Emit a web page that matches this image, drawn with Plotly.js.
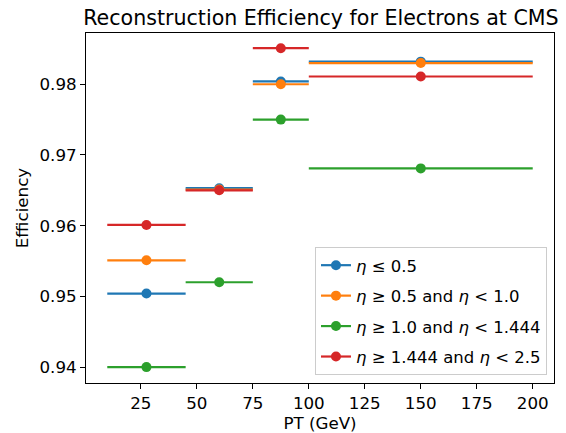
<!DOCTYPE html>
<html>
<head>
<meta charset="utf-8">
<script src="https://cdn.plot.ly/plotly-3.0.1.min.js"></script>
<style>html,body{margin:0;padding:0;background:#fff;}#chart{width:566px;height:433px;}</style>
</head>
<body>
<div id="chart"></div>
<script>
const ptCenters = [27.5, 60, 87.5, 150];
const ptHalfWidths = [17.5, 15, 12.5, 50];
const effEta0 = [0.9504, 0.9653, 0.9804, 0.9832];
const effEta1 = [0.9551, 0.9651, 0.9800, 0.9830];
const effEta2 = [0.9400, 0.9520, 0.9750, 0.9681];
const effEta3 = [0.9601, 0.9650, 0.9851, 0.9811];
const seriesNames = [
  '<i>η</i> ≤ 0.5',
  '<i>η</i> ≥ 0.5 and <i>η</i> < 1.0',
  '<i>η</i> ≥ 1.0 and <i>η</i> < 1.444',
  '<i>η</i> ≥ 1.444 and <i>η</i> < 2.5'
];
const colors = ['#1f77b4', '#ff7f0e', '#2ca02c', '#d62728'];
const allSeries = [effEta0, effEta1, effEta2, effEta3];

const traces = [];
allSeries.forEach((vals, i) => {
  traces.push({
    x: ptCenters, y: vals, type: 'scatter', mode: 'markers',
    marker: {color: colors[i], size: 10},
    error_x: {type: 'data', array: ptHalfWidths, symmetric: true, color: colors[i], thickness: 2.2, width: 0},
    showlegend: false, hoverinfo: 'skip'
  });
});
allSeries.forEach((vals, i) => {
  traces.push({
    x: [null], y: [null], type: 'scatter', mode: 'lines+markers',
    name: seriesNames[i], legendgroup: 'g' + i,
    marker: {color: colors[i], size: 10},
    line: {color: colors[i], width: 2.2}
  });
});

const font = {family: 'DejaVu Sans', size: 16.7, color: '#000'};
const layout = {
  width: 566, height: 433,
  margin: {l: 86, r: 12, t: 33, b: 50},
  paper_bgcolor: '#fff', plot_bgcolor: '#fff',
  font: font,
  title: {text: 'Reconstruction Efficiency for Electrons at CMS', font: {family: 'DejaVu Sans', size: 20.6, color: '#000'}, x: 0.567, xanchor: 'center', y: 0.958, yanchor: 'middle'},
  xaxis: {
    range: [0.5, 209.5], tickvals: [25, 50, 75, 100, 125, 150, 175, 200],
    ticks: 'outside', ticklen: 5, tickwidth: 1, tickcolor: '#000',
    showline: true, mirror: true, linecolor: '#000', linewidth: 1,
    showgrid: false, zeroline: false,
    title: {text: 'PT (GeV)', font: font, standoff: 4}
  },
  yaxis: {
    range: [0.93775, 0.98725], tickvals: [0.94, 0.95, 0.96, 0.97, 0.98], tickformat: '.2f',
    ticks: 'outside', ticklen: 5, tickwidth: 1, tickcolor: '#000',
    showline: true, mirror: true, linecolor: '#000', linewidth: 1,
    showgrid: false, zeroline: false,
    title: {text: 'Efficiency', font: font, standoff: 6}
  },
  legend: {
    x: 0.985, y: 0.023, xanchor: 'right', yanchor: 'bottom',
    bgcolor: 'rgba(255,255,255,0.8)', bordercolor: '#cccccc', borderwidth: 1,
    font: {family: 'DejaVu Sans', size: 16.5, color: '#000'}, traceorder: 'grouped', tracegroupgap: 6, itemwidth: 30
  },
  showlegend: true
};
Plotly.newPlot('chart', traces, layout, {displayModeBar: false, staticPlot: true});
</script>
</body>
</html>
